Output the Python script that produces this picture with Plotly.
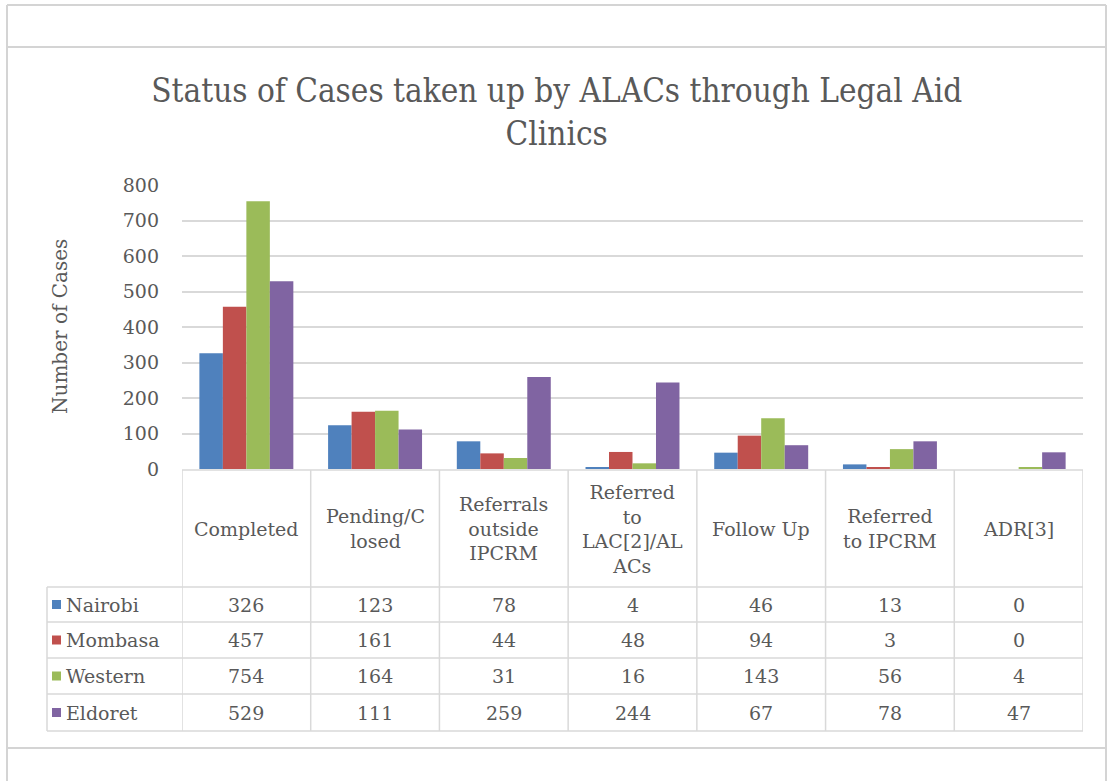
import plotly.graph_objects as go

categories = ["Completed", "Pending/Closed", "Referrals outside IPCRM",
              "Referred to LAC[2]/ALACs", "Follow Up", "Referred to IPCRM", "ADR[3]"]
header_labels = ["Completed", "Pending/C<br>losed", "Referrals<br>outside<br>IPCRM",
                 "Referred<br>to<br>LAC[2]/AL<br>ACs", "Follow Up", "Referred<br>to IPCRM", "ADR[3]"]
series_names = ["Nairobi", "Mombasa", "Western", "Eldoret"]
nairobi = [326, 123, 78, 4, 46, 13, 0]
mombasa = [457, 161, 44, 48, 94, 3, 0]
western = [754, 164, 31, 16, 143, 56, 4]
eldoret = [529, 111, 259, 244, 67, 78, 47]
series_values = [nairobi, mombasa, western, eldoret]
colors = ["#4F81BD", "#C0504D", "#9BBB59", "#8064A2"]
y_ticks = [0, 100, 200, 300, 400, 500, 600, 700, 800]

W, H = 1109, 781
TITLE_FONT = "DejaVu Serif Condensed, Liberation Serif, serif"
FONT = "DejaVu Serif, Liberation Serif, serif"
TXT = "#595959"
GRID = "#d9d9d9"

def px(x):
    return x / W

def py(y):
    return 1 - y / H

plot_left, plot_right = 182, 1083
plot_top, plot_bottom = 185, 469

fig = go.Figure()
for name, vals, col in zip(series_names, series_values, colors):
    fig.add_trace(go.Bar(x=categories, y=vals, name=name, marker=dict(color=col, line=dict(width=0))))

shapes = []
annotations = []

# outer frame (document table cell borders)
frame_col = "#d4d4d4"
for (x0, y0, x1, y1) in [(7, 5, 1106, 5), (7, 47, 1106, 47), (7, 748, 1106, 748),
                         (7, 5, 7, 781), (1106, 5, 1106, 781)]:
    shapes.append(dict(type="line", xref="paper", yref="paper", x0=px(x0), y0=py(y0), x1=px(x1), y1=py(y1),
                       line=dict(color=frame_col, width=2)))

# data table geometry
header_top = 470
row_lines = [587, 622, 658, 694, 731]
legend_left = 47
n = len(categories)

shapes.append(dict(type="line", xref="paper", yref="paper", x0=px(plot_left), x1=px(plot_right),
                   y0=py(header_top), y1=py(header_top), line=dict(color=GRID, width=1.5)))
for ry in row_lines:
    shapes.append(dict(type="line", xref="paper", yref="paper", x0=px(legend_left), x1=px(plot_right),
                       y0=py(ry), y1=py(ry), line=dict(color=GRID, width=1.5)))
shapes.append(dict(type="line", xref="paper", yref="paper", x0=px(legend_left), x1=px(legend_left),
                   y0=py(row_lines[0]), y1=py(row_lines[-1]), line=dict(color=GRID, width=1.5)))
for i in range(n + 1):
    shapes.append(dict(type="line", xref="x", yref="paper", x0=i - 0.5, x1=i - 0.5,
                       y0=py(header_top), y1=py(row_lines[-1]), line=dict(color=GRID, width=1.5)))

for cat, lab in zip(categories, header_labels):
    annotations.append(dict(x=cat, xref="x", y=py((header_top + row_lines[0]) / 2), yref="paper",
                            xanchor="center", yanchor="middle",
                            text=lab, showarrow=False, align="center",
                            font=dict(family=FONT, size=19, color=TXT)))

for r, (name, vals, col) in enumerate(zip(series_names, series_values, colors)):
    yc = (row_lines[r] + row_lines[r + 1]) / 2
    shapes.append(dict(type="rect", xref="paper", yref="paper", x0=px(52), x1=px(61),
                       y0=py(yc + 4.5), y1=py(yc - 4.5), fillcolor=col, line=dict(width=0)))
    annotations.append(dict(x=px(64), xref="paper", y=py(yc), yref="paper", text=name, showarrow=False,
                            xanchor="left", yanchor="middle", font=dict(family=FONT, size=19, color=TXT)))
    for cat, v in zip(categories, vals):
        annotations.append(dict(x=cat, xref="x", y=py(yc), yref="paper", text=str(v), showarrow=False,
                                xanchor="center", yanchor="middle",
                                font=dict(family=FONT, size=19, color=TXT)))

annotations.append(dict(x=px(60), xref="paper", y=py(327), yref="paper", text="Number of Cases",
                        xanchor="center", yanchor="middle",
                        showarrow=False, textangle=-90, font=dict(family=FONT, size=20, color=TXT)))

fig.update_layout(
    width=W, height=H,
    margin=dict(l=0, r=0, t=0, b=0, autoexpand=False),
    paper_bgcolor="white", plot_bgcolor="white",
    showlegend=False,
    barmode="group", bargap=0.27, bargroupgap=0,
    title=dict(text="Status of Cases taken up by ALACs through Legal Aid<br>Clinics",
               x=0.502, xanchor="center", y=py(102), yanchor="middle",
               font=dict(family=TITLE_FONT, size=33, color=TXT)),
    xaxis=dict(domain=[px(plot_left), px(plot_right)], showticklabels=False, showgrid=False,
               zeroline=False, showline=False, ticks="", range=[-0.5, n - 0.5], automargin=False),
    yaxis=dict(domain=[py(plot_bottom), py(plot_top)], range=[0, 800], tickvals=y_ticks,
               showgrid=True, gridcolor=GRID, gridwidth=1.5, zeroline=False, showline=False,
               ticks="", ticklabelstandoff=22, automargin=False,
               tickfont=dict(family=FONT, size=19, color=TXT)),
    shapes=shapes, annotations=annotations,
    font=dict(family=FONT, color=TXT),
)

fig.write_html("out.html", config={"displayModeBar": False},
               post_script="document.body.style.margin='0';document.body.style.overflow='hidden';")
